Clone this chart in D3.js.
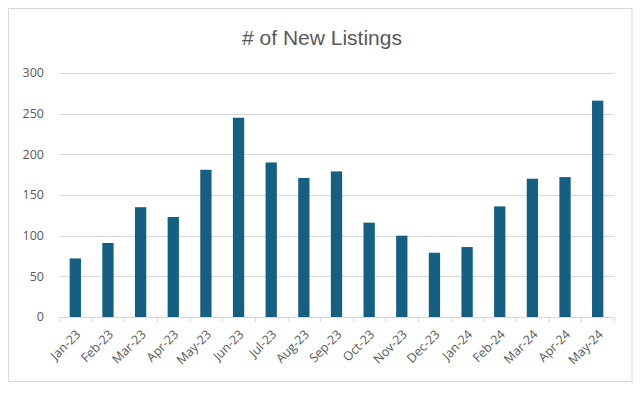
<!DOCTYPE html>
<html><head><meta charset="utf-8">
<script src="https://cdn.jsdelivr.net/npm/d3@7"></script>
<style>body{margin:0;background:#fff}</style>
</head><body>
<svg id="c" width="644" height="393"></svg>
<script>
const categories = ["Jan-23","Feb-23","Mar-23","Apr-23","May-23","Jun-23","Jul-23","Aug-23","Sep-23","Oct-23","Nov-23","Dec-23","Jan-24","Feb-24","Mar-24","Apr-24","May-24"];
const values = [72,91,135,123,181,245,190,171,179,116,100,79,86,136,170,172,266];
const yTicks = [0,50,100,150,200,250,300];
const title = "# of New Listings";

const svg = d3.select("#c");
svg.append("rect").attr("x",8.5).attr("y",8.5).attr("width",623.5).attr("height",373)
  .attr("fill","#fff").attr("stroke","#d9d9d9").attr("stroke-width",1);

const m = {left:59, right:614, top:73, bottom:317};
const x = d3.scaleBand().domain(categories).range([m.left,m.right]).paddingInner(0.654).paddingOuter(0.327);
const y = d3.scaleLinear().domain([0,300]).range([m.bottom,m.top]);

const fontAxis = "'Open Sans','Liberation Sans', Arial, sans-serif";

svg.append("g").selectAll("line").data(yTicks.slice(1)).join("line")
  .attr("x1",m.left).attr("x2",m.right)
  .attr("y1",d=>Math.round(y(d))+0.5).attr("y2",d=>Math.round(y(d))+0.5)
  .attr("stroke","#d9d9d9").attr("stroke-width",1);

svg.append("g").selectAll("text").data(yTicks).join("text")
  .attr("x",44).attr("y",d=>y(d)).attr("dy","0.35em").attr("text-anchor","end")
  .attr("font-family",fontAxis).attr("font-size",12.5).attr("fill","#595959").text(d=>d);

svg.append("g").selectAll("rect").data(values).join("rect")
  .attr("x",(d,i)=>x(categories[i])).attr("width",x.bandwidth())
  .attr("y",d=>y(d)).attr("height",d=>y(0)-y(d)).attr("fill","#156082");

svg.append("line").attr("x1",m.left).attr("x2",m.right).attr("y1",m.bottom+0.5).attr("y2",m.bottom+0.5)
  .attr("stroke","#d9d9d9");
svg.append("g").selectAll("line").data(d3.range(categories.length+1)).join("line")
  .attr("x1",i=>Math.round(m.left+i*(m.right-m.left)/categories.length)+0.5)
  .attr("x2",i=>Math.round(m.left+i*(m.right-m.left)/categories.length)+0.5)
  .attr("y1",m.bottom).attr("y2",m.bottom+5).attr("stroke","#d9d9d9");

svg.append("g").selectAll("text").data(categories).join("text")
  .attr("transform",d=>`translate(${x(d)+x.bandwidth()/2+3},${m.bottom+15}) rotate(-45)`)
  .attr("text-anchor","end").attr("dy","0.35em")
  .attr("font-family",fontAxis).attr("font-size",12.5).attr("fill","#595959").text(d=>d);

svg.append("text").attr("x",322).attr("y",45).attr("text-anchor","middle")
  .attr("font-family","'Liberation Sans Narrow','Liberation Sans',sans-serif")
  .attr("font-size",21).attr("fill","#595959").text(title);
</script>
</body></html>
